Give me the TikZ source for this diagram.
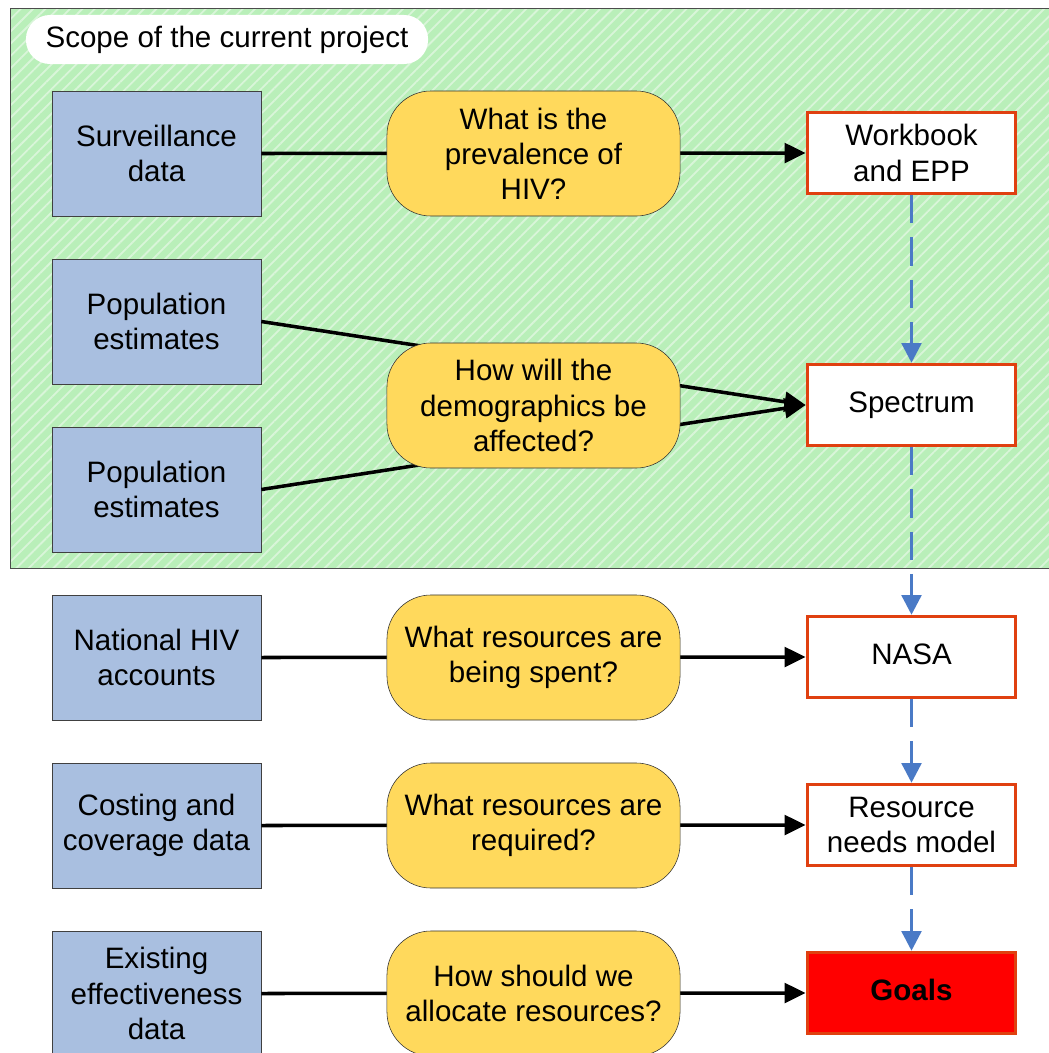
\documentclass[tikz,border=0pt]{standalone}
\usepackage{fontspec}
\setmainfont{Liberation Sans}
\usepackage{xcolor}
\usetikzlibrary{arrows.meta,patterns.meta}

\definecolor{scopegreen}{HTML}{B9EFB9}
\definecolor{scopestripe}{HTML}{D9F5D9}
\definecolor{databl}{HTML}{A9BFE0}
\definecolor{questyel}{HTML}{FFD95C}
\definecolor{modelred}{HTML}{E04010}
\definecolor{flowblue}{HTML}{4A7AC6}

\begin{document}
\begin{tikzpicture}[x = 0.025cm, y = -0.025cm,
    every node/.style = {font = \fontsize{21}{25}\selectfont, align = center},
    databox/.style = {draw = black!75, fill = databl, minimum width = 5.225cm, minimum height = 3.125cm, inner sep = 0pt},
    question/.style = {draw = black!80, fill = questyel, rounded corners = 1.1cm, minimum width = 7.325cm, minimum height = 3.125cm, inner sep = 0pt},
    model/.style = {draw = modelred, line width = 2.6pt, fill = white, minimum width = 5.2cm, minimum height = 2.02cm, inner sep = 0pt},
    feed/.style = {line width = 2.5pt, -{Triangle[length = 15pt, width = 14pt]}},
    chain/.style = {flowblue, line width = 2.3pt, dash pattern = on 20pt off 10pt, -{Triangle[length = 14pt, width = 14pt]}}]
  \useasboundingbox (0, 0) rectangle (1048, 1053);
  \fill [scopegreen] (10, 8) rectangle (1055, 568);
  \fill [pattern = {Lines[angle = 45, distance = 6.2pt, line width = 1.3pt]}, pattern color = scopestripe] (10, 8) rectangle (1055, 568);
  \draw [black!70, line width = 0.7pt] (10, 8) rectangle (1055, 568);
  \node [fill = white, rounded corners = 0.6cm, minimum width = 10.05cm, minimum height = 1.225cm] (scope) at (227, 39.5) {Scope of the current project};

  \node [databox] (surv) at (156.5, 153.5) {Surveillance\\data};
  \node [databox] (popa) at (156.5, 321.5) {Population\\estimates};
  \node [databox] (popb) at (156.5, 489.5) {Population\\estimates};
  \node [databox] (nha) at (156.5, 657.5) {National HIV\\accounts};
  \node [databox] (cost) at (156.5, 825.5) {Costing and\\coverage data};
  \node [databox] (effect) at (156.5, 993.5) {Existing\\effectiveness\\data};

  \node [model] (epp) at (911.5, 153) {Workbook\\and EPP};
  \node [model] (spec) at (911.5, 405) {Spectrum\strut};
  \node [model] (nasa) at (911.5, 657) {NASA\strut};
  \node [model] (rnm) at (911.5, 825) {Resource\\needs model};
  \node [model, fill = red, font = \fontsize{21}{25}\selectfont\bfseries] (goals) at (911.5, 993) {Goals\strut};

  \draw [feed] (surv.east) -- (epp.west);
  \draw [feed] (popa.east) -- (spec.west);
  \draw [feed] (popb.east) -- (spec.west);
  \draw [feed] (nha.east) -- (nasa.west);
  \draw [feed] (cost.east) -- (rnm.west);
  \draw [feed] (effect.east) -- (goals.west);

  \node [question] (qprev) at (533.5, 153.5) {What is the\\prevalence of\\HIV?};
  \node [question] (qdemo) at (533.5, 405.5) {How will the\\demographics be\\affected?};
  \node [question] (qspent) at (533.5, 657.5) {What resources are\\being spent?};
  \node [question] (qreq) at (533.5, 825.5) {What resources are\\required?};
  \node [question] (qalloc) at (533.5, 993.5) {How should we\\allocate resources?};

  \draw [chain] (epp) -- (spec);
  \draw [chain] (spec) -- (nasa);
  \draw [chain] (nasa) -- (rnm);
  \draw [chain] (rnm) -- (goals);
\end{tikzpicture}
\end{document}
